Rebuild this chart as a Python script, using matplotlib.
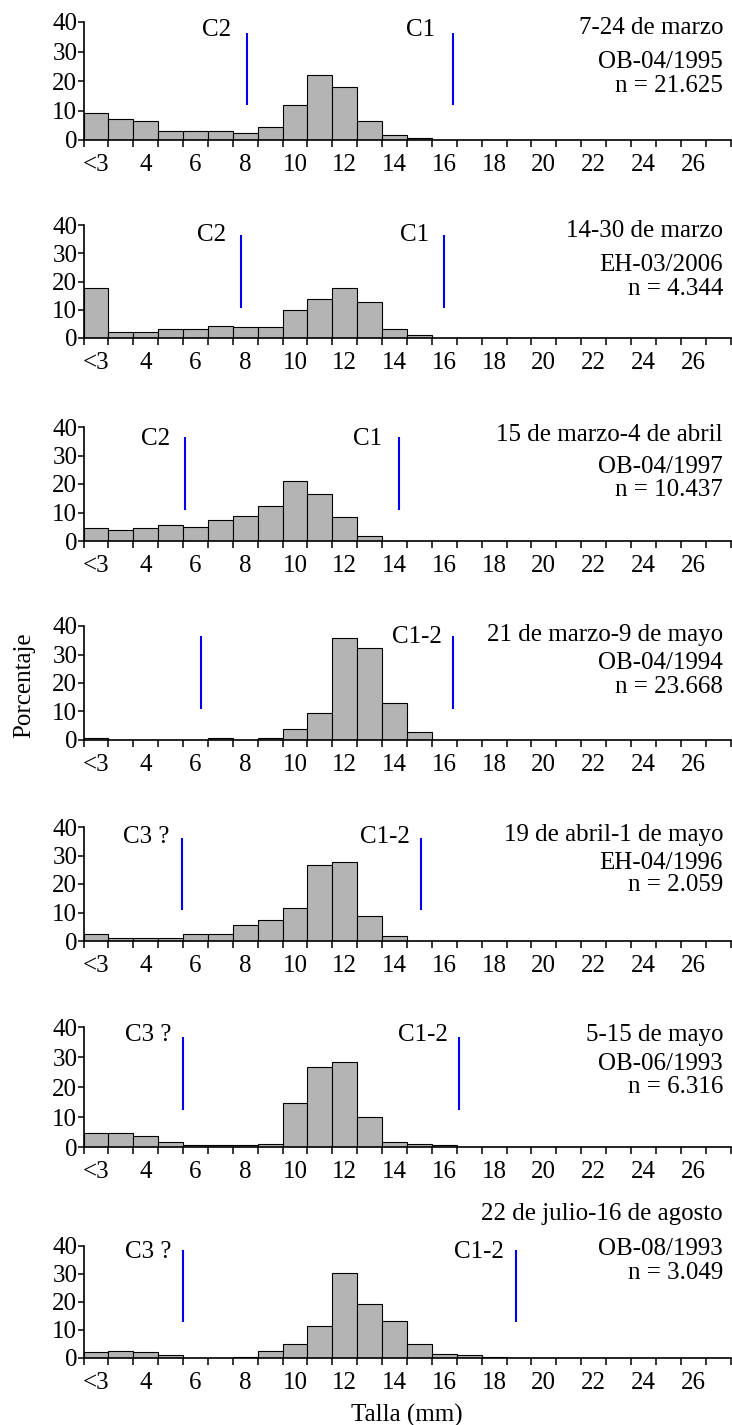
import matplotlib
matplotlib.use("Agg")
import matplotlib.pyplot as plt

plt.rcParams['font.family'] = ['Liberation Serif', 'DejaVu Serif']

# clases de talla (mm); la primera es "<3"
tallas = list(range(2, 28))
tick_pos = [2, 4, 6, 8, 10, 12, 14, 16, 18, 20, 22, 24, 26]
tick_lab = ['<3', '4', '6', '8', '10', '12', '14', '16', '18', '20', '22', '24', '26']

# porcentaje por clase de talla, una lista por campaña
pct_1 = [9.2, 7.0, 6.6, 3.2, 3.2, 3.2, 2.3, 4.3, 12.0, 22.2, 17.9, 6.6, 1.7, 0.6,
         0, 0, 0, 0, 0, 0, 0, 0, 0, 0, 0, 0]
pct_2 = [17.6, 2.0, 2.0, 3.2, 3.2, 4.2, 3.8, 3.8, 9.9, 13.8, 17.6, 12.6, 3.2, 0.9,
         0, 0, 0, 0, 0, 0, 0, 0, 0, 0, 0, 0]
pct_3 = [4.7, 3.9, 4.7, 5.7, 5.0, 7.4, 8.9, 12.3, 21.2, 16.6, 8.5, 1.9, 0, 0,
         0, 0, 0, 0, 0, 0, 0, 0, 0, 0, 0, 0]
pct_4 = [0.7, 0, 0, 0, 0, 0.7, 0, 0.7, 4.0, 9.6, 35.7, 32.3, 12.9, 2.8,
         0, 0, 0, 0, 0, 0, 0, 0, 0, 0, 0, 0]
pct_5 = [2.3, 1.2, 1.2, 1.2, 2.3, 2.3, 5.7, 7.4, 11.7, 26.7, 27.7, 8.9, 1.9, 0,
         0, 0, 0, 0, 0, 0, 0, 0, 0, 0, 0, 0]
pct_6 = [4.7, 4.7, 3.7, 1.7, 0.6, 0.6, 0.6, 1.0, 14.8, 26.7, 28.3, 10.0, 1.7, 1.1,
         0.6, 0, 0, 0, 0, 0, 0, 0, 0, 0, 0, 0]
pct_7 = [2.1, 2.6, 2.1, 1.1, 0, 0, 0.5, 2.6, 4.9, 11.5, 30.5, 19.4, 13.3, 4.9,
         1.5, 1.1, 0.5, 0, 0, 0, 0, 0, 0, 0, 0, 0]
porcentajes = [pct_1, pct_2, pct_3, pct_4, pct_5, pct_6, pct_7]

fechas = ['7-24 de marzo', '14-30 de marzo', '15 de marzo-4 de abril',
          '21 de marzo-9 de mayo', '19 de abril-1 de mayo', '5-15 de mayo',
          '22 de julio-16 de agosto']
campanas = ['OB-04/1995', 'EH-03/2006', 'OB-04/1997', 'OB-04/1994',
            'EH-04/1996', 'OB-06/1993', 'OB-08/1993']
n_txt = ['n = 21.625', 'n = 4.344', 'n = 10.437', 'n = 23.668',
         'n = 2.059', 'n = 6.316', 'n = 3.049']

# modas (lineas azules)
moda_izq = [8.07, 7.83, 5.56, 6.21, 5.45, 5.49, 5.49]
moda_der = [16.33, 16.0, 14.19, 16.36, 15.05, 16.59, 18.9]
nom_izq = ['C2', 'C2', 'C2', '', 'C3 ?', 'C3 ?', 'C3 ?']
nom_der = ['C1', 'C1', 'C1', 'C1-2', 'C1-2', 'C1-2', 'C1-2']

# posiciones (px) de cada panel: borde superior (40) y cero
marcos = [(22, 140), (225, 338), (427, 541), (626, 740), (827, 941), (1027, 1147), (1246, 1358)]
lin_y = [(11.7, 36.2), (10.6, 36.5), (10.8, 36.5), (10.8, 36.6), (10.9, 36.3), (12.4, 36.7), (12.7, 38.4)]
txt_y = [(38.1, 26.6, 18.4), (37.7, 25.9, 17.3), (37.1, 26.0, 17.8), (36.8, 26.9, 18.7),
         (37.1, 27.2, 19.5), (37.2, 27.8, 20.0), (51.5, 39.0, 30.2)]
lab_y = [37.2, 36.5, 35.9, 36.2, 36.5, 37.2, 37.8]
sep_izq = [0.65, 0.58, 0.56, 0.5, 0.5, 0.44, 0.44]
sep_der = [0.7, 0.63, 0.7, 0.44, 0.43, 0.43, 0.5]

W, H = 732, 1425
fig = plt.figure(figsize=(W / 100, H / 100), dpi=100)
fs = 18

for i, (top, zero) in enumerate(marcos):
    ax = fig.add_axes([83.5 / W, 1 - zero / H, (730.5 - 83.5) / W, (zero - top) / H])
    ax.bar(tallas, porcentajes[i], width=1.0, color='#b4b4b4', edgecolor='black', linewidth=0.8)
    ax.set_xlim(1.5, 27.5)
    ax.set_ylim(0, 40)
    for s in ['top', 'right']:
        ax.spines[s].set_visible(False)
    ax.spines['left'].set_linewidth(1.2)
    ax.spines['bottom'].set_linewidth(1.2)

    ax.set_yticks([0, 10, 20, 30, 40])
    ax.tick_params(axis='y', length=4, width=1.1, pad=0.5, labelsize=fs)
    ax.set_xticks([b + 0.5 for b in range(1, 28)])
    ax.set_xticklabels([])
    ax.tick_params(axis='x', which='major', length=5, width=1.1)
    ax.set_xticks(tick_pos, minor=True)
    ax.set_xticklabels(tick_lab, minor=True)
    ax.tick_params(axis='x', which='minor', length=0, pad=10, labelsize=fs)

    y0, y1 = lin_y[i]
    ax.vlines([moda_izq[i], moda_der[i]], y0, y1, color='#0000ee', linewidth=1.5)
    if nom_izq[i]:
        ax.text(moda_izq[i] - sep_izq[i], lab_y[i], nom_izq[i], ha='right', va='center', fontsize=fs)
    ax.text(moda_der[i] - sep_der[i], lab_y[i], nom_der[i], ha='right', va='center', fontsize=fs)

    ty = txt_y[i]
    ax.text(27.2, ty[0], fechas[i], ha='right', va='center', fontsize=fs, clip_on=False)
    ax.text(27.2, ty[1], campanas[i], ha='right', va='center', fontsize=fs, clip_on=False)
    ax.text(27.2, ty[2], n_txt[i], ha='right', va='center', fontsize=fs, clip_on=False)

    if i == len(marcos) - 1:
        ax.set_xlabel('Talla (mm)', fontsize=fs, labelpad=7)

fig.text(24 / W, 1 - 685 / H, 'Porcentaje', rotation=90, ha='center', va='center', fontsize=fs)

fig.savefig('out.png', dpi=100)
